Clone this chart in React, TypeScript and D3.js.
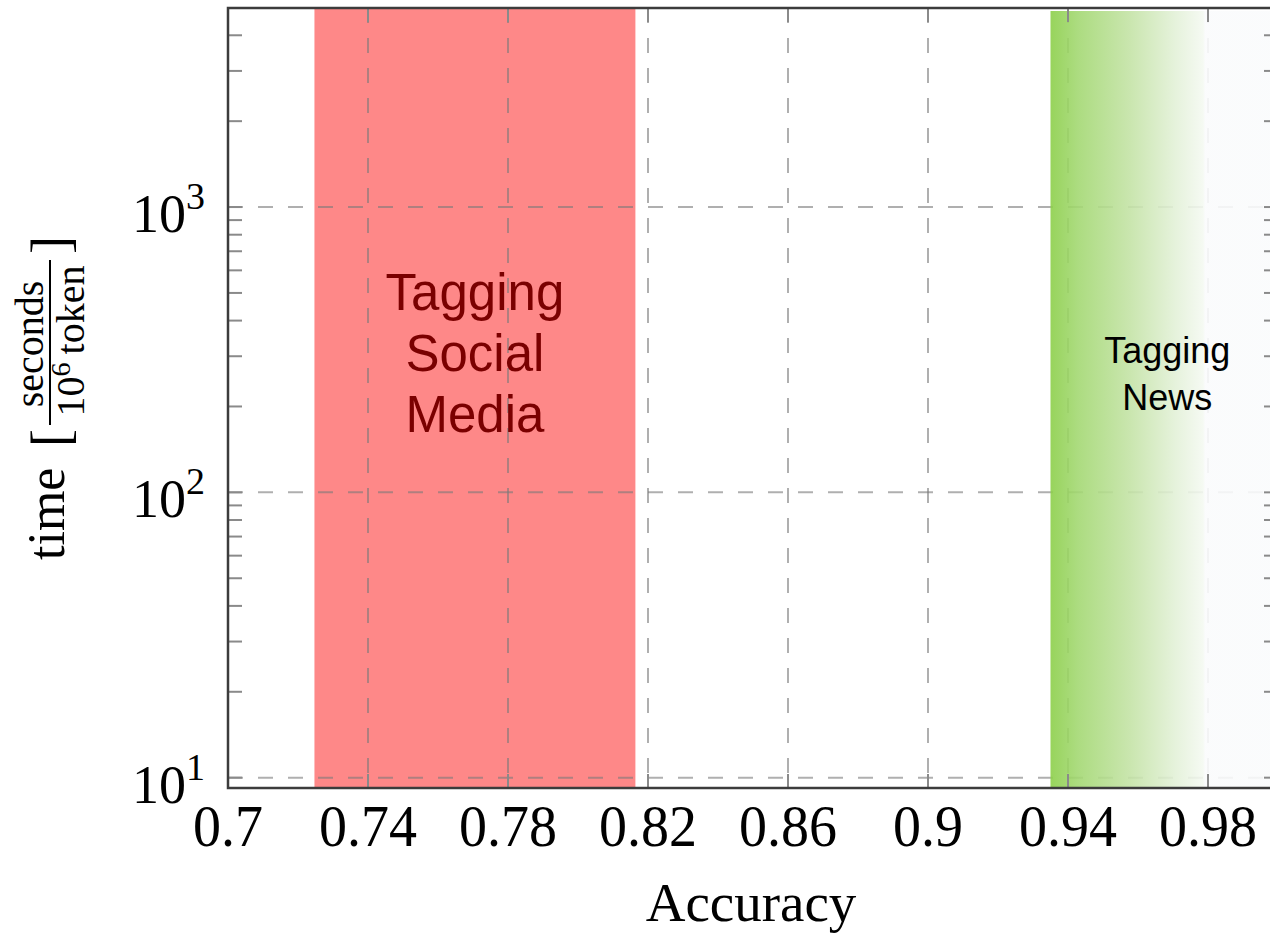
import React, { useEffect, useRef } from "react";
import * as d3 from "d3";

// axis ticks
const xTicks = [0.7, 0.74, 0.78, 0.82, 0.86, 0.9, 0.94, 0.98];
const xTickLabels = ["0.7", "0.74", "0.78", "0.82", "0.86", "0.9", "0.94", "0.98"];
const yMajor = [10, 100, 1000];
const yExponents = ["1", "2", "3"];
const yMinor = [20, 30, 40, 50, 60, 70, 80, 90, 200, 300, 400, 500, 600, 700, 800, 900, 2000, 3000, 4000];

// axis limits
const xDomain = [0.7, 1.0];
const yDomain = [9.2, 4985];

// shaded accuracy ranges
const bandNames = ["social", "news"];
const bandFrom = [0.7247, 0.935];
const bandTo = [0.8164, 1.0];
const bandLabels = [["Tagging", "Social", "Media"], ["Tagging", "News"]];

const W = 1270;
const H = 934;
const margin = { left: 228, top: 8, right: 1278, bottom: 788 };

const Chart = () => {
  const ref = useRef<SVGSVGElement | null>(null);

  useEffect(() => {
    const svg = d3.select(ref.current);
    svg.selectAll("*").remove();

    const x = d3.scaleLinear().domain(xDomain).range([margin.left, margin.right]);
    const y = d3.scaleLog().domain(yDomain).range([margin.bottom, margin.top]);

    const defs = svg.append("defs");
    const grad = defs
      .append("linearGradient")
      .attr("id", "newsGrad")
      .attr("gradientUnits", "userSpaceOnUse")
      .attr("x1", x(bandFrom[1]))
      .attr("x2", x(bandTo[1]))
      .attr("y1", 0)
      .attr("y2", 0);
    [
      [0, "#8ccf4a"],
      [0.12, "#a3d872"],
      [0.35, "#c4e3a6"],
      [0.55, "#e3f1d8"],
      [0.67, "#f4f9f1"],
      [0.68, "#fafbfc"],
      [1, "#fafbfc"],
    ].forEach(([o, c]) => grad.append("stop").attr("offset", o).attr("stop-color", c));

    defs
      .append("clipPath")
      .attr("id", "plotClip")
      .append("rect")
      .attr("x", margin.left)
      .attr("y", margin.top)
      .attr("width", margin.right - margin.left)
      .attr("height", margin.bottom - margin.top);

    svg.append("rect").attr("width", W).attr("height", H).attr("fill", "#ffffff");

    const plot = svg.append("g").attr("clip-path", "url(#plotClip)");

    // red band
    plot
      .append("rect")
      .attr("x", x(bandFrom[0]))
      .attr("y", margin.top)
      .attr("width", x(bandTo[0]) - x(bandFrom[0]))
      .attr("height", margin.bottom - margin.top)
      .attr("fill", "#fe8888");

    // grid
    const grid = plot
      .append("g")
      .attr("stroke", "#7a7a7a")
      .attr("stroke-opacity", 0.6)
      .attr("stroke-width", 2)
      .attr("stroke-dasharray", "15 15");
    grid
      .selectAll("line.vg")
      .data(xTicks)
      .enter()
      .append("line")
      .attr("class", "vg")
      .attr("x1", (d) => x(d))
      .attr("x2", (d) => x(d))
      .attr("y1", margin.top)
      .attr("y2", margin.bottom);
    grid
      .selectAll("line.hg")
      .data(yMajor)
      .enter()
      .append("line")
      .attr("class", "hg")
      .attr("x1", margin.left)
      .attr("x2", margin.right)
      .attr("y1", (d) => y(d))
      .attr("y2", (d) => y(d));

    // green band (over the grid, slightly see-through)
    plot
      .append("rect")
      .attr("x", x(bandFrom[1]))
      .attr("y", margin.top + 3)
      .attr("width", x(bandTo[1]) - x(bandFrom[1]))
      .attr("height", margin.bottom - margin.top - 3)
      .attr("fill", "url(#newsGrad)")
      .attr("opacity", 0.9);

    // ticks
    const ticks = svg.append("g").attr("stroke", "#8a8a8a").attr("stroke-width", 2);
    const tl = 14;
    xTicks.forEach((t) => {
      ticks.append("line").attr("x1", x(t)).attr("x2", x(t)).attr("y1", margin.bottom).attr("y2", margin.bottom - tl);
      ticks.append("line").attr("x1", x(t)).attr("x2", x(t)).attr("y1", margin.top).attr("y2", margin.top + tl);
    });
    yMajor.concat(yMinor).forEach((t) => {
      ticks.append("line").attr("x1", margin.left).attr("x2", margin.left + tl).attr("y1", y(t)).attr("y2", y(t));
      ticks.append("line").attr("x1", margin.right).attr("x2", margin.right - tl).attr("y1", y(t)).attr("y2", y(t));
    });

    // frame
    svg
      .append("rect")
      .attr("x", margin.left)
      .attr("y", margin.top)
      .attr("width", margin.right - margin.left)
      .attr("height", margin.bottom - margin.top)
      .attr("fill", "none")
      .attr("stroke", "#3c3c3c")
      .attr("stroke-width", 2.5);

    const serif = "'Liberation Serif', 'DejaVu Serif', serif";
    const sans = "'Liberation Sans', Arial, sans-serif";

    // x tick labels (slightly tall, like the reference)
    svg
      .selectAll("text.xl")
      .data(xTicks)
      .enter()
      .append("text")
      .attr("class", "xl")
      .attr("transform", (d) => `translate(${x(d)},846) scale(1,1.07)`)
      .attr("text-anchor", "middle")
      .attr("font-family", serif)
      .attr("font-size", 56)
      .attr("fill", "#000")
      .text((d, i) => xTickLabels[i]);

    // y tick labels
    yMajor.forEach((v, i) => {
      const t = svg
        .append("text")
        .attr("x", 205)
        .attr("y", y(v) + 25)
        .attr("text-anchor", "end")
        .attr("font-family", serif)
        .attr("font-size", 54)
        .attr("fill", "#000");
      t.append("tspan").text("10");
      t.append("tspan").attr("dy", -23).attr("font-size", 38).text(yExponents[i]);
    });

    // x title
    svg
      .append("text")
      .attr("x", 751)
      .attr("y", 921)
      .attr("text-anchor", "middle")
      .attr("font-family", serif)
      .attr("font-size", 55)
      .attr("fill", "#000")
      .text("Accuracy");

    // y title: time [ seconds / 10^6 token ]
    const yt = svg
      .append("g")
      .attr("transform", "translate(64,560) rotate(-90)")
      .attr("font-family", serif)
      .attr("fill", "#000");
    yt.append("text").attr("x", 0).attr("y", 0).attr("font-size", 52).text("time");
    yt.append("text").attr("x", 113).attr("y", 5).attr("font-size", 54).text("[");
    yt.append("text").attr("x", 216).attr("y", -21).attr("font-size", 40).attr("text-anchor", "middle").text("seconds");
    yt.append("line").attr("x1", 135).attr("x2", 300).attr("y1", -14).attr("y2", -14).attr("stroke", "#000").attr("stroke-width", 2);
    const den = yt.append("text").attr("x", 219).attr("y", 20).attr("font-size", 40).attr("text-anchor", "middle");
    den.append("tspan").text("10");
    den.append("tspan").attr("dy", -14).attr("font-size", 28).text("6");
    den.append("tspan").attr("dy", 14).text("\u2009token");
    yt.append("text").attr("x", 306).attr("y", 5).attr("font-size", 54).text("]");

    // band labels
    const labelStyle = [
      { size: 51, fill: "#7a0000", base: 310, step: 61, shift: 0 },
      { size: 36, fill: "#000000", base: 363, step: 47, shift: 3 },
    ];
    bandNames.forEach((name, i) => {
      const s = labelStyle[i];
      const cx = (x(bandFrom[i]) + x(bandTo[i])) / 2 + s.shift;
      const t = svg
        .append("text")
        .attr("class", "band-" + name)
        .attr("text-anchor", "middle")
        .attr("font-family", sans)
        .attr("font-size", s.size)
        .attr("fill", s.fill);
      bandLabels[i].forEach((line, j) => {
        t.append("tspan").attr("x", cx).attr("y", s.base + j * s.step).text(line);
      });
    });
  }, []);

  return <svg ref={ref} width={W} height={H} style={{ display: "block" }} />;
};

export default function App() {
  return (
    <div>
      <style>{`body{margin:0}`}</style>
      <Chart />
    </div>
  );
}
